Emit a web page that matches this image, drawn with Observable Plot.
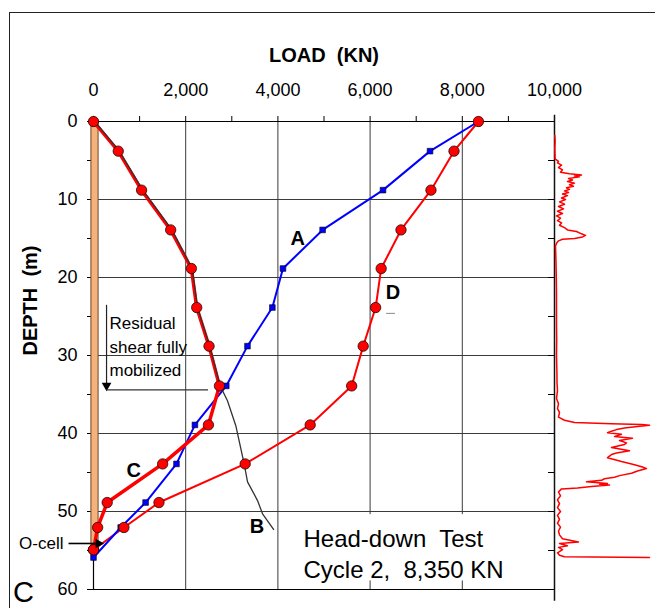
<!DOCTYPE html>
<html><head><meta charset="utf-8">
<script src="https://cdn.jsdelivr.net/npm/d3@7"></script>
<script src="https://cdn.jsdelivr.net/npm/@observablehq/plot@0.6"></script>
<style>
html,body{margin:0;padding:0;background:#fff;}
#wrap{position:relative;width:655px;height:608px;overflow:hidden;font-family:Arial,"Liberation Sans",sans-serif;}
#wrap svg{position:absolute;left:0;top:0;overflow:visible;}
#border{position:absolute;left:9px;top:12px;width:700px;height:700px;border-left:1.5px solid #222;border-top:1.5px solid #222;}
</style></head><body><div id="wrap"><div id="border"></div></div>
<script>
// ---- data ----
const gaugeDepths = [0, 3.8, 8.8, 13.9, 18.85, 23.85, 28.8, 33.9, 38.9, 43.9, 48.85, 52.05, 54.9];
const depthA = [0, 3.8, 8.8, 13.9, 18.85, 23.85, 28.8, 33.9, 38.9, 43.9, 48.85, 52.05, 55.9];
const loadA  = [8350, 7300, 6280, 4970, 4110, 3880, 3340, 2880, 2200, 1800, 1130, 590, 0];
const loadD  = [8350, 7820, 7320, 6670, 6240, 6120, 5850, 5600, 4700, 3290, 1420, 660, 0];
const loadC  = [0, 537, 1043, 1674, 2123, 2239, 2506, 2732, 2493, 1500, 297, 90, 0];
const depthB = [0, 3.8, 8.8, 13.9, 18.85, 23.85, 28.8, 33.9, 35.8, 39, 43.9, 46.2, 48.6, 50.3, 52.3];
const loadB  = [30, 560, 1070, 1700, 2140, 2255, 2520, 2750, 2906, 3087, 3268, 3341, 3558, 3667, 3906];
const xTicks = [0, 2000, 4000, 6000, 8000, 10000];
const yTicks = [0, 10, 20, 30, 40, 50, 60];
const gridLoads = [2000, 4000, 6000, 8000];
const gridDepths = [10, 20, 30, 40, 50];
// side log trace: [depth m, relative value]
const traceReadings = [[1.8,0.3],[2.5,0.6],[3.5,0.3],[4.8,0.6],[5.1,4],[5.3,3],[5.6,7],[5.9,4],[6.2,8],[6.5,6],[6.7,15],[6.85,27],[7.0,20],[7.1,25],[7.3,14],[7.5,18],[7.7,13],[7.9,20],[8.1,15],[8.3,19],[8.5,12],[8.7,15],[8.9,10],[9.1,14],[9.3,8],[9.5,13],[9.8,7],[10.0,11],[10.3,5],[10.6,10],[10.9,4],[11.2,9],[11.5,3],[11.8,8],[12.1,2],[12.4,6],[12.7,3],[13.0,7],[13.3,5],[13.6,10],[13.9,13],[14.1,22],[14.4,27],[14.6,31],[14.8,28],[15.0,20],[15.1,8],[15.3,4],[15.6,2],[16.0,1],[18,1.5],[20,1.8],[22,2],[24,2],[26,2],[28,2.2],[30,2],[32,2.4],[33.5,2.5],[34.5,3],[35.5,2],[36.2,4],[36.8,3],[37.3,5],[37.9,4],[38.3,10],[38.6,20],[38.75,57],[38.85,87],[38.95,95],[39.1,83],[39.3,70],[39.5,62],[39.7,57],[39.9,53],[40.1,67],[40.4,60],[40.6,78],[40.9,65],[41.2,72],[41.4,70],[41.8,57],[42.2,75],[42.5,62],[42.7,57],[43.1,53],[43.6,67],[44.0,80],[44.3,88],[44.5,92],[44.8,83],[45.1,77],[45.4,65],[45.6,60],[45.8,50],[46.0,47],[46.2,32],[46.4,53],[46.5,45],[46.6,55],[46.8,37],[47.0,23],[47.1,7],[47.5,4],[48,6],[48.5,3],[49,5],[49.5,3],[50,6],[50.5,3],[51,5],[51.5,3],[52,6],[52.5,4],[53,5],[53.5,8],[53.9,24],[54.1,5],[54.4,13],[54.6,4],[54.9,8],[55.3,3],[55.6,5],[55.8,10],[55.9,95]];
// annotations
const curveLabels = [{t:"A",x:4430,y:15},{t:"B",x:3546,y:51.9},{t:"C",x:874,y:44.7},{t:"D",x:6497,y:21.95}];
const pile = {x1:-45, x2:110, y1:0, y2:55.4};
const textBox = {x1:4130, x2:9960, y1:50.4, y2:58.9};
const residual = {x:283, y1:23.5, y2:34.4, xEnd:2495, tx:347, ty:28.7, text:"Residual\nshear fully\nmobilized"};
const ocell = {x1:-542, x2:217, y:54.1, tx:-651, text:"O-cell"};
const testText = {x:4555, y:55.3, text:"Head-down  Test\nCycle 2,  8,350 KN"};
const panelLabel = {x:-1518, y:60.4, text:"C"};

const FONT = "Arial, 'Liberation Sans', sans-serif";
const common = {width:655, height:608, marginTop:121, marginBottom:19,
  style:{fontFamily:FONT, background:"transparent", overflow:"visible", color:"#000"}};
const pts = (ds, ls) => ds.map((d,i)=>({d, l:ls[i]}));
const A = pts(depthA, loadA), D = pts(gaugeDepths, loadD), Cc = pts(gaugeDepths, loadC), B = pts(depthB, loadB);

const main = Plot.plot({
  ...common, marginLeft:93, marginRight:101,
  x:{domain:[0,10000]}, y:{domain:[0,60], reverse:true},
  marks:[
    Plot.gridX(gridLoads, {stroke:"#3a3a3a", strokeOpacity:1}),
    Plot.gridY(gridDepths, {stroke:"#3a3a3a", strokeOpacity:1}),
    Plot.rect([textBox], {x1:"x1", x2:"x2", y1:"y1", y2:"y2", fill:"white"}),
    Plot.ruleY([0, 60], {stroke:"#000", strokeWidth:1.2}),
    Plot.ruleX([0], {stroke:"#000", strokeWidth:1.2}),
    Plot.axisX({anchor:"top", ticks:d3.range(0,10001,1000), tickSize:6, fill:"none", stroke:"#000"}),
    Plot.axisX({anchor:"top", ticks:xTicks, tickSize:0, tickPadding:26, tickFormat:d3.format(","), fontSize:18, label:null, fill:"#000"}),
    Plot.axisY({anchor:"left", ticks:d3.range(0,61,5), tickSize:6, fill:"none", stroke:"#000"}),
    Plot.axisY({anchor:"left", ticks:yTicks, tickSize:0, tickPadding:16, fontSize:18, label:null, fill:"#000"}),
    Plot.rect([pile], {x1:"x1", x2:"x2", y1:"y1", y2:"y2", fill:"#f6b27c", stroke:"#6b4528", strokeWidth:1}),
    Plot.line(D, {x:"l", y:"d", stroke:"#ff0000", strokeWidth:2}),
    Plot.line(A, {x:"l", y:"d", stroke:"#0000ff", strokeWidth:2}),
    Plot.line(Cc, {x:"l", y:"d", stroke:"#ff0000", strokeWidth:3.5}),
    Plot.line(B, {x:"l", y:"d", stroke:"#333", strokeWidth:1.3}),
    Plot.dot(A, {x:"l", y:"d", symbol:"square", r:3.2, fill:"#0000ff", stroke:"#000", strokeWidth:0.6}),
    Plot.dot(D, {x:"l", y:"d", r:5.2, fill:"#ff0000", stroke:"#000", strokeWidth:0.7}),
    Plot.dot(Cc, {x:"l", y:"d", r:5.2, fill:"#ff0000", stroke:"#000", strokeWidth:0.7}),
    Plot.text(curveLabels, {x:"x", y:"y", text:"t", fontSize:20, fontWeight:"bold", fill:"#000"}),
    Plot.ruleY([{y:24.6}], {y:"y", x1:6360, x2:6550, stroke:"#888", strokeWidth:1}),
    // residual annotation
    Plot.link([residual], {x1:"x", x2:"x", y1:"y1", y2:d=>d.y2-0.6, stroke:"#222", strokeWidth:1.2}),
    Plot.dot([residual], {x:"x", y:d=>d.y2-0.55, symbol:"triangle", r:3.6, rotate:180, fill:"#000", stroke:"none"}),
    Plot.ruleY([residual], {y:"y2", x1:"x", x2:"xEnd", stroke:"#333", strokeWidth:1.2}),
    Plot.text([residual], {x:"tx", y:"ty", text:"text", textAnchor:"start", fontSize:17, lineHeight:1.38, fill:"#000"}),
    // O-cell
    Plot.link([ocell], {x1:"x1", x2:d=>d.x2-150, y1:"y", y2:"y", stroke:"#000", strokeWidth:1.6}),
    Plot.dot([ocell], {x:d=>d.x2-110, y:"y", symbol:"triangle", r:3.6, rotate:90, fill:"#000", stroke:"none"}),
    Plot.text([ocell], {x:"tx", y:"y", text:"text", textAnchor:"end", fontSize:17, fill:"#000"}),
    Plot.text([testText], {x:"x", y:"y", text:"text", textAnchor:"start", fontSize:24, lineHeight:1.3, fill:"#000"}),
    Plot.text([panelLabel], {x:"x", y:"y", text:"text", fontSize:29, fill:"#000"}),
    Plot.text(["LOAD  (KN)"], {frameAnchor:"top", dy:-74, text:d=>d, fontSize:20, fontWeight:"bold", fill:"#000"}),
    Plot.text(["DEPTH  (m)"], {frameAnchor:"left", dx:-63, rotate:-90, text:d=>d, fontSize:20, fontWeight:"bold", fill:"#000"})
  ]
});

const side = Plot.plot({
  ...common, marginLeft:554, marginRight:1,
  x:{domain:[0,100], axis:null}, y:{domain:[0,60], reverse:true},
  marks:[
    Plot.axisY({anchor:"left", ticks:d3.range(0,61,5), tickSize:6, fill:"none", stroke:"#000"}),
    Plot.ruleX([0], {y1:-0.8, y2:61.5, stroke:"#111", strokeWidth:1.5}),
    Plot.line(traceReadings, {x:d=>d[1], y:d=>d[0], stroke:"#ff0000", strokeWidth:1.5})
  ]
});
const wrap = document.getElementById("wrap");
wrap.appendChild(main);
wrap.appendChild(side);
</script></body></html>
